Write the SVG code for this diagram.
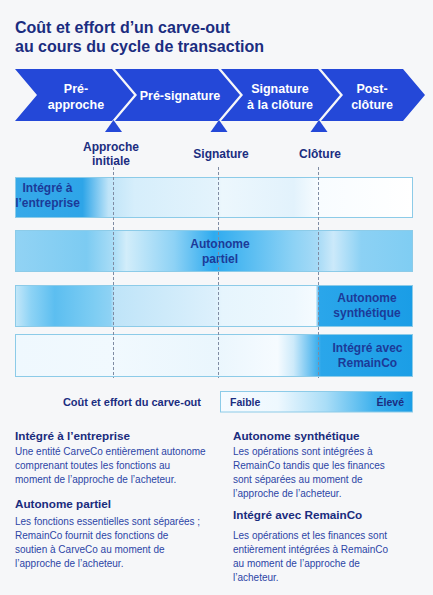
<svg xmlns="http://www.w3.org/2000/svg" width="433" height="595" viewBox="0 0 433 595">
<defs>
<style>
.title{font-family:"Liberation Sans",Arial,sans-serif;font-weight:bold;font-size:16px;fill:#1b2d80}
.chev{fill:#2448d8}
.chevt{font-family:"Liberation Sans",Arial,sans-serif;font-weight:bold;font-size:12.5px;fill:#ffffff;text-anchor:middle}
.ms{font-family:"Liberation Sans",Arial,sans-serif;font-weight:bold;font-size:12px;fill:#1b2d80;text-anchor:middle}
.bar{stroke:#8ccbe8;stroke-width:1}
.bt{font-family:"Liberation Sans",Arial,sans-serif;font-weight:bold;font-size:12px;fill:#1c3a98;text-anchor:middle}
.dash{stroke:#7f8ca3;stroke-width:1;stroke-dasharray:3 2;fill:none}
.lg{font-family:"Liberation Sans",Arial,sans-serif;font-weight:bold;font-size:11px;fill:#1b2d80}
.lgb{font-family:"Liberation Sans",Arial,sans-serif;font-weight:bold;font-size:10.5px;fill:#1b2d80}
.h{font-family:"Liberation Sans",Arial,sans-serif;font-weight:bold;font-size:11.7px;fill:#1a2c7e}
.b{font-family:"Liberation Sans",Arial,sans-serif;font-size:10px;fill:#2c45a6}
</style>
<linearGradient id="g1" x1="15" y1="0" x2="413" y2="0" gradientUnits="userSpaceOnUse">
<stop offset="0" stop-color="#36a9e9"/>
<stop offset="0.17" stop-color="#2ea5e8"/>
<stop offset="0.235" stop-color="#bfe4f8"/>
<stop offset="0.3" stop-color="#d6eefb"/>
<stop offset="0.5" stop-color="#e3f3fc"/>
<stop offset="0.52" stop-color="#ecf7fd"/>
<stop offset="0.7" stop-color="#e2f2fc"/>
<stop offset="0.765" stop-color="#f8fcff"/>
<stop offset="1" stop-color="#ffffff"/>
</linearGradient>
<linearGradient id="g2" x1="15" y1="0" x2="413" y2="0" gradientUnits="userSpaceOnUse">
<stop offset="0" stop-color="#92d3f4"/>
<stop offset="0.18" stop-color="#7ccbf2"/>
<stop offset="0.245" stop-color="#a8dcf6"/>
<stop offset="0.28" stop-color="#d2edfa"/>
<stop offset="0.4" stop-color="#8ed2f5"/>
<stop offset="0.5" stop-color="#2fabef"/>
<stop offset="0.57" stop-color="#4fb9f1"/>
<stop offset="0.7" stop-color="#8dd2f5"/>
<stop offset="0.76" stop-color="#a6daf6"/>
<stop offset="0.8" stop-color="#cbe9fa"/>
<stop offset="0.87" stop-color="#8cd1f4"/>
<stop offset="1" stop-color="#7fcdf3"/>
</linearGradient>
<linearGradient id="g3" x1="15" y1="0" x2="413" y2="0" gradientUnits="userSpaceOnUse">
<stop offset="0" stop-color="#c6e8f9"/>
<stop offset="0.04" stop-color="#8dd3f5"/>
<stop offset="0.1" stop-color="#5cbef0"/>
<stop offset="0.2" stop-color="#7ecdf3"/>
<stop offset="0.24" stop-color="#8ed2f4"/>
<stop offset="0.25" stop-color="#bfe4f8"/>
<stop offset="0.5" stop-color="#dcf0fc"/>
<stop offset="0.52" stop-color="#e6f5fd"/>
<stop offset="0.7" stop-color="#eef8fe"/>
<stop offset="0.755" stop-color="#f5fbff"/>
<stop offset="0.765" stop-color="#2aa6ea"/>
<stop offset="1" stop-color="#1a9de6"/>
</linearGradient>
<linearGradient id="g4" x1="15" y1="0" x2="413" y2="0" gradientUnits="userSpaceOnUse">
<stop offset="0" stop-color="#eff8fe"/>
<stop offset="0.25" stop-color="#f1f9fe"/>
<stop offset="0.5" stop-color="#eaf6fd"/>
<stop offset="0.66" stop-color="#f6fbff"/>
<stop offset="0.7" stop-color="#cdeafa"/>
<stop offset="0.77" stop-color="#2aa6ea"/>
<stop offset="1" stop-color="#1b9ee6"/>
</linearGradient>
<linearGradient id="gl" x1="220" y1="0" x2="413" y2="0" gradientUnits="userSpaceOnUse">
<stop offset="0" stop-color="#f6fbff"/>
<stop offset="0.3" stop-color="#eef8fe"/>
<stop offset="0.55" stop-color="#a9ddf7"/>
<stop offset="0.8" stop-color="#3eb1ed"/>
<stop offset="1" stop-color="#1a9de6"/>
</linearGradient>
</defs>
<rect x="0" y="0" width="433" height="595" fill="#f6f7f9"/>
<g id="title">
<text class="title" x="15" y="33">Coût et effort d’un carve-out</text>
<text class="title" x="15" y="52">au cours du cycle de transaction</text>
</g>
<g id="phase-preapproche">
<polygon class="chev" points="15,69 112,69 134,95 112,121 15,121 37,95"/>
<text class="chevt" x="76" y="93">Pré-</text>
<text class="chevt" x="76" y="108.5">approche</text>
</g>
<g id="phase-presignature">
<polygon class="chev" points="115,69 218,69 240,95 218,121 115,121 137,95"/>
<text class="chevt" x="180" y="100">Pré-signature</text>
</g>
<g id="phase-signature-cloture">
<polygon class="chev" points="221,69 318,69 340,95 318,121 221,121 243,95"/>
<text class="chevt" x="280" y="93">Signature</text>
<text class="chevt" x="280" y="108.5">à la clôture</text>
</g>
<g id="phase-postcloture">
<polygon class="chev" points="321,69 403,69 425,95 403,121 321,121 343,95"/>
<text class="chevt" x="372" y="93">Post-</text>
<text class="chevt" x="372" y="108.5">clôture</text>
</g>
<g id="milestone-approche">
<polygon class="chev" points="113.5,120 105,132 122,132"/>
<text class="ms" x="111" y="151">Approche</text>
<text class="ms" x="111" y="165">initiale</text>
</g>
<g id="milestone-signature">
<polygon class="chev" points="219,120 210.5,132 227.5,132"/>
<text class="ms" x="221" y="158">Signature</text>
</g>
<g id="milestone-cloture">
<polygon class="chev" points="319,120 310.5,132 327.5,132"/>
<text class="ms" x="320" y="158">Clôture</text>
</g>
<g id="bar-integre-entreprise">
<rect class="bar" x="15.5" y="177.5" width="397" height="40" fill="url(#g1)"/>
<text class="bt" x="47.5" y="192">Intégré à</text>
<text class="bt" x="47.5" y="207">l’entreprise</text>
</g>
<g id="bar-autonome-partiel">
<rect class="bar" x="15.5" y="230.5" width="397" height="41" fill="url(#g2)"/>
<text class="bt" x="220" y="248">Autonome</text>
<text class="bt" x="220" y="263">partiel</text>
</g>
<g id="bar-autonome-synthetique">
<rect class="bar" x="15.5" y="285.5" width="397" height="41" fill="url(#g3)"/>
<text class="bt" x="367" y="302">Autonome</text>
<text class="bt" x="367" y="317">synthétique</text>
</g>
<g id="bar-integre-remainco">
<rect class="bar" x="15.5" y="334.5" width="397" height="42" fill="url(#g4)"/>
<text class="bt" x="367.5" y="352">Intégré avec</text>
<text class="bt" x="367.5" y="367">RemainCo</text>
</g>
<g id="connectors">
<line class="dash" x1="113.5" y1="167" x2="113.5" y2="378"/>
<line class="dash" x1="218.5" y1="167" x2="218.5" y2="378"/>
<line class="dash" x1="318.5" y1="167" x2="318.5" y2="378"/>
</g>
<g id="legend">
<text class="lg" x="201" y="406" text-anchor="end">Coût et effort du carve-out</text>
<rect class="bar" x="220.5" y="391.5" width="192" height="20.5" fill="url(#gl)"/>
<text class="lgb" x="230" y="406">Faible</text>
<text class="lgb" x="404" y="406" text-anchor="end">Élevé</text>
</g>
<g id="desc-integre-entreprise">
<text class="h" x="15" y="440">Intégré à l’entreprise</text>
<text class="b" x="15" y="455">Une entité CarveCo entièrement autonome</text>
<text class="b" x="15" y="469">comprenant toutes les fonctions au</text>
<text class="b" x="15" y="483">moment de l’approche de l’acheteur.</text>
</g>
<g id="desc-autonome-partiel">
<text class="h" x="15" y="507.5">Autonome partiel</text>
<text class="b" x="15" y="525">Les fonctions essentielles sont séparées ;</text>
<text class="b" x="15" y="539">RemainCo fournit des fonctions de</text>
<text class="b" x="15" y="553">soutien à CarveCo au moment de</text>
<text class="b" x="15" y="567">l’approche de l’acheteur.</text>
</g>
<g id="desc-autonome-synthetique">
<text class="h" x="233" y="439.5">Autonome synthétique</text>
<text class="b" x="233" y="455">Les opérations sont intégrées à</text>
<text class="b" x="233" y="469">RemainCo tandis que les finances</text>
<text class="b" x="233" y="483">sont séparées au moment de</text>
<text class="b" x="233" y="497">l’approche de l’acheteur.</text>
</g>
<g id="desc-integre-remainco">
<text class="h" x="233" y="519">Intégré avec RemainCo</text>
<text class="b" x="233" y="538.5">Les opérations et les finances sont</text>
<text class="b" x="233" y="552.5">entièrement intégrées à RemainCo</text>
<text class="b" x="233" y="566.5">au moment de l’approche de</text>
<text class="b" x="233" y="580.5">l’acheteur.</text>
</g>
</svg>
